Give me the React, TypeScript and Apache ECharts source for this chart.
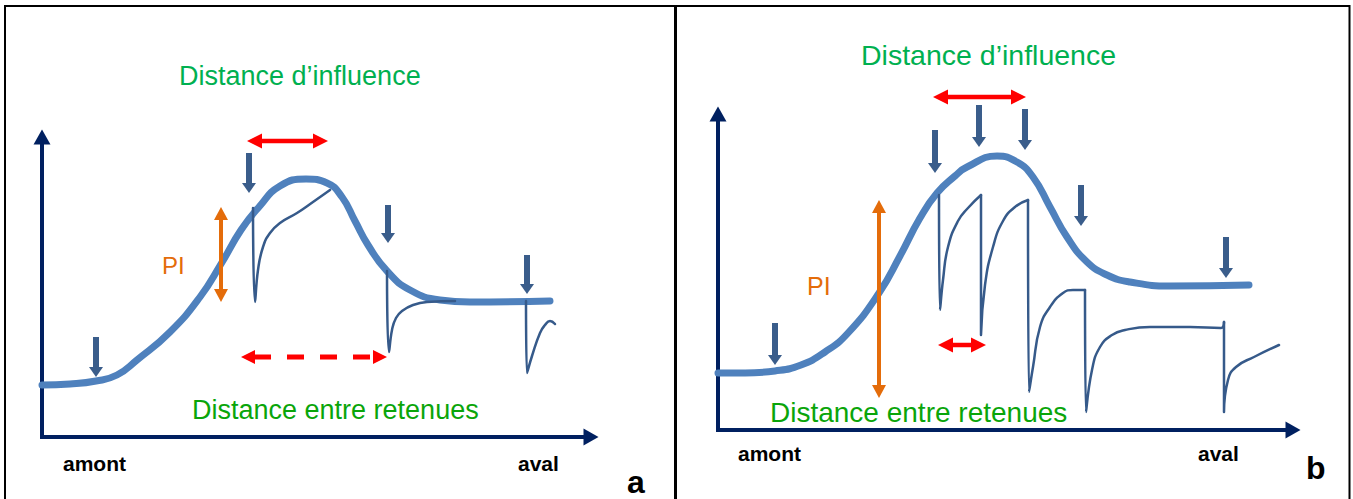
import React, { useEffect, useRef } from "react";
import * as echarts from "echarts";

// ---------- Panel a (units: distance along river / level) ----------
const profileA: number[][] = [
  [0, 52], [28, 53], [54, 56], [75, 62], [95, 77], [128, 105], [158, 140], [179, 173],
  [199, 207], [217, 230], [238, 251], [264, 258], [285, 254], [300, 240], [313, 216],
  [326, 192], [345, 166], [368, 147], [398, 137], [428, 135], [508, 136],
];
const retenueA1: number[][] = [[211, 229], [213, 135], [216, 167], [221, 190], [228, 204], [238, 214], [255, 224], [271, 235], [288, 247]];
const retenueA2: number[][] = [[345, 166], [347, 85], [350, 107], [354, 119], [360, 126], [371, 132], [385, 135], [413, 136]];
const retenueA3: number[][] = [[484, 136], [485, 64], [490, 81], [498, 104], [503, 112], [508, 116], [513, 113]];
const barragesA: number[][] = [[54, 100, 54, 60], [207, 284, 207, 244], [346, 232, 346, 194], [485, 182, 485, 143]];
const influenceA: number[][] = [[205, 296, 286, 296]];
const entreRetenuesA: number[][] = [[199, 80, 345, 80]];
const piA: number[][] = [[179, 230, 179, 135]];

// ---------- Panel b ----------
const profileB: number[][] = [
  [0, 57], [27, 57], [57, 59], [83, 65], [107, 78], [130, 97], [161, 137], [182, 174],
  [202, 212], [219, 237], [237, 254], [249, 263], [279, 274], [299, 268], [315, 253],
  [332, 223], [349, 193], [369, 168], [389, 155], [412, 148], [452, 144], [531, 145],
];
const retenueB1: number[][] = [[221, 235], [222, 120], [225, 150], [230, 183], [240, 209], [250, 222], [263, 235]];
const retenueB2: number[][] = [[263, 235], [263, 95], [267, 145], [275, 183], [285, 209], [297, 223], [310, 230]];
const retenueB3: number[][] = [[310, 230], [311, 38], [315, 63], [322, 103], [332, 123], [345, 137], [355, 140], [367, 140]];
const retenueB4: number[][] = [[367, 140], [368, 18], [374, 60], [382, 83], [394, 95], [407, 100], [432, 103], [472, 103], [503, 102], [506, 108]];
const retenueB5: number[][] = [[506, 108], [506, 18], [510, 50], [518, 63], [536, 73], [561, 85]];
const barragesB: number[][] = [[57, 107, 57, 65], [217, 300, 217, 257], [261, 325, 261, 283], [307, 321, 307, 280], [363, 245, 363, 204], [508, 193, 508, 152]];
const influenceB: number[][] = [[215, 333, 308, 333]];
const entreRetenuesB: number[][] = [[220, 85, 268, 85]];
const piB: number[][] = [[161, 230, 161, 32]];

const titleInfluence = "Distance d’influence";
const titleEntre = "Distance entre retenues";
const labelPI = "PI";
const labelAmont = "amont";
const labelAval = "aval";

const FONT = '"Liberation Sans", Arial, sans-serif';
const C_PROFILE = "#4f81bd";
const C_THIN = "#365a8a";
const C_DARK = "#3a5d8b";
const C_AXIS = "#002060";
const C_RED = "#ff0000";
const C_ORANGE = "#e46c0a";

type ArrowStyle = { color: string; shaft: number; headW: number; headL: number; double: boolean; dash?: number[] };

function arrowSeries(data: number[][], gi: number, st: ArrowStyle) {
  return {
    type: "custom",
    xAxisIndex: gi,
    yAxisIndex: gi,
    silent: true,
    z: 6,
    data,
    renderItem: (_params: any, api: any) => {
      const p0 = api.coord([api.value(0), api.value(1)]);
      const p1 = api.coord([api.value(2), api.value(3)]);
      const dx = p1[0] - p0[0];
      const dy = p1[1] - p0[1];
      const len = Math.hypot(dx, dy) || 1;
      const ux = dx / len, uy = dy / len;
      const nx = -uy, ny = ux;
      const hw = st.headW / 2;
      const s = st.double ? [p0[0] + ux * (st.headL - 1), p0[1] + uy * (st.headL - 1)] : p0;
      const e = [p1[0] - ux * (st.headL - 1), p1[1] - uy * (st.headL - 1)];
      const head = (tip: number[], dir: number) => {
        const bx = tip[0] - ux * st.headL * dir;
        const by = tip[1] - uy * st.headL * dir;
        return {
          type: "polygon",
          shape: { points: [[tip[0], tip[1]], [bx + nx * hw, by + ny * hw], [bx - nx * hw, by - ny * hw]] },
          style: { fill: st.color },
        };
      };
      const children: any[] = [
        {
          type: "line",
          shape: { x1: s[0], y1: s[1], x2: e[0], y2: e[1] },
          style: { stroke: st.color, lineWidth: st.shaft, lineDash: st.dash || null, fill: null },
        },
        head(p1, 1),
      ];
      if (st.double) children.push(head(p0, -1));
      return { type: "group", children };
    },
  };
}

function lineSeries(data: number[][], gi: number, color: string, width: number, z: number) {
  return {
    type: "line",
    xAxisIndex: gi,
    yAxisIndex: gi,
    data,
    smooth: 0.5,
    symbol: "none",
    showSymbol: false,
    silent: true,
    clip: false,
    z,
    lineStyle: { color, width, cap: "round", join: "round" },
  };
}

function axisPair(gi: number, max: number, isX: boolean) {
  return {
    type: "value",
    gridIndex: gi,
    min: 0,
    max,
    axisLine: {
      show: true,
      onZero: false,
      symbol: ["none", "triangle"],
      symbolSize: [17, 15],
      lineStyle: { color: C_AXIS, width: 4, cap: "square" },
    },
    axisTick: { show: false },
    axisLabel: { show: false },
    splitLine: { show: false },
    ...(isX ? { position: "bottom" } : { position: "left" }),
  };
}

function txt(text: string, x: number, y: number, size: number, color: string, bold = false) {
  return {
    type: "text",
    x,
    y,
    silent: true,
    style: {
      text,
      fill: color,
      fontSize: size,
      fontWeight: bold ? "bold" : "normal",
      fontFamily: FONT,
      align: "left",
      verticalAlign: "middle",
    },
  };
}

export default function App() {
  const ref = useRef<HTMLDivElement>(null);
  useEffect(() => {
    if (!ref.current) return;
    const chart = echarts.init(ref.current, null, { renderer: "svg" });
    const dark: ArrowStyle = { color: C_DARK, shaft: 6, headW: 14, headL: 10, double: false };
    const red: ArrowStyle = { color: C_RED, shaft: 4.5, headW: 15, headL: 15, double: true };
    const redDash: ArrowStyle = { color: C_RED, shaft: 5, headW: 14, headL: 14, double: true, dash: [17, 16] };
    const orange: ArrowStyle = { color: C_ORANGE, shaft: 4, headW: 14, headL: 13, double: true };

    chart.setOption({
      animation: false,
      backgroundColor: "#ffffff",
      textStyle: { fontFamily: FONT },
      grid: [
        { left: 42, top: 137, width: 549, height: 300 },
        { left: 718, top: 114, width: 575, height: 316 },
      ],
      xAxis: [axisPair(0, 549, true), axisPair(1, 575, true)],
      yAxis: [axisPair(0, 300, false), axisPair(1, 316, false)],
      series: [
        lineSeries(profileA, 0, C_PROFILE, 7, 2),
        ...[retenueA1, retenueA2, retenueA3].map((d) => lineSeries(d, 0, C_THIN, 2.5, 3)),
        arrowSeries(barragesA, 0, dark),
        arrowSeries(influenceA, 0, red),
        arrowSeries(entreRetenuesA, 0, redDash),
        arrowSeries(piA, 0, orange),
        lineSeries(profileB, 1, C_PROFILE, 7, 2),
        ...[retenueB1, retenueB2, retenueB3, retenueB4, retenueB5].map((d) => lineSeries(d, 1, C_THIN, 2.5, 3)),
        arrowSeries(barragesB, 1, dark),
        arrowSeries(influenceB, 1, red),
        arrowSeries(entreRetenuesB, 1, red),
        arrowSeries(piB, 1, orange),
      ],
      graphic: [
        { type: "rect", silent: true, z: -1, shape: { x: 5, y: 6, width: 1344.5, height: 520 }, style: { fill: "none", stroke: "#000", lineWidth: 2 } },
        { type: "line", silent: true, z: -1, shape: { x1: 675.5, y1: 6, x2: 675.5, y2: 499 }, style: { stroke: "#000", lineWidth: 3 } },
        txt(titleInfluence, 179, 76, 27, "#00b050"),
        txt(titleEntre, 192, 410, 27, "#0aa50a"),
        txt(labelPI, 162, 265, 24, C_ORANGE),
        txt(labelAmont, 63, 463, 21, "#000", true),
        txt(labelAval, 518, 463, 21, "#000", true),
        txt("a", 627, 482, 32, "#000", true),
        txt(titleInfluence, 861, 55, 28.5, "#00b050"),
        txt(titleEntre, 770, 412, 28, "#0aa50a"),
        txt(labelPI, 807, 286, 25, C_ORANGE),
        txt(labelAmont, 738, 453, 21, "#000", true),
        txt(labelAval, 1198, 453, 21, "#000", true),
        txt("b", 1306, 468, 32, "#000", true),
      ],
    });
    return () => chart.dispose();
  }, []);
  return (
    <div
      ref={ref}
      style={{ position: "absolute", left: 0, top: 0, width: 1353, height: 499, background: "#fff" }}
    />
  );
}
